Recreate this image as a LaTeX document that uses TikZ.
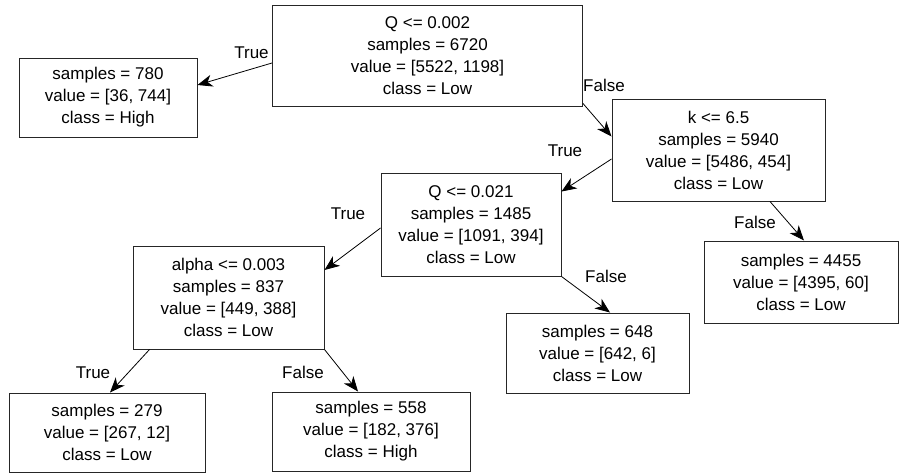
\documentclass[tikz,border=0pt]{standalone}
\usepackage{fontspec}
\setmainfont{Liberation Sans}
\usetikzlibrary{arrows.meta}
\begin{document}
\begin{tikzpicture}[x=1pt,y=-1pt,
  box/.style={draw=black!85, line width=1pt, inner sep=0pt, align=center,
    font=\fontsize{17}{22}\selectfont},
  lbl/.style={inner sep=0pt, font=\fontsize{17}{22}\selectfont},
  edge/.style={draw=black, line width=0.8pt, -{Stealth[length=15pt,width=12pt,inset=4.5pt]}}]
\useasboundingbox (0,0) rectangle (899,474);
\node[box, minimum width=310pt, minimum height=101pt] (root) at (427.5,55.5)
  {Q <= 0.002\\samples = 6720\\value = [5522, 1198]\\class = Low};
\node[box, minimum width=178pt, minimum height=79pt] (n780) at (108,97.5)
  {samples = 780\\value = [36, 744]\\class = High};
\node[box, minimum width=213pt, minimum height=102pt] (k) at (718.5,150)
  {k <= 6.5\\samples = 5940\\value = [5486, 454]\\class = Low};
\node[box, minimum width=180pt, minimum height=103pt] (q) at (471,224.5)
  {Q <= 0.021\\samples = 1485\\value = [1091, 394]\\class = Low};
\node[box, minimum width=194pt, minimum height=82pt] (n4455) at (801,282)
  {samples = 4455\\value = [4395, 60]\\class = Low};
\node[box, minimum width=191pt, minimum height=103pt] (alpha) at (228.5,297.5)
  {alpha <= 0.003\\samples = 837\\value = [449, 388]\\class = Low};
\node[box, minimum width=183pt, minimum height=80pt] (n648) at (597.5,353)
  {samples = 648\\value = [642, 6]\\class = Low};
\node[box, minimum width=196pt, minimum height=79pt] (n279) at (107,432.5)
  {samples = 279\\value = [267, 12]\\class = Low};
\node[box, minimum width=198pt, minimum height=79pt] (n558) at (371,431.5)
  {samples = 558\\value = [182, 376]\\class = High};

\draw[edge] ([yshift=-7.5pt]root.west) -- ([yshift=12.5pt]n780.east);
\draw[edge] ([yshift=3pt]root.south east) -- ([yshift=-38pt]k.north west);
\draw[edge] ([yshift=-9pt]k.west) -- ([yshift=-19pt]q.north east);
\draw[edge] ([yshift=-3.5pt]q.west) -- ([yshift=27.5pt]alpha.east);
\draw[edge] (q.south east) -- ([xshift=12.5pt]n648.north);
\draw[edge] ([xshift=51.5pt]k.south) -- ([xshift=3pt]n4455.north);
\draw[edge] ([xshift=17pt]alpha.south west) -- ([xshift=3pt]n279.north);
\draw[edge] (alpha.south east) -- ([xshift=-13pt]n558.north);

\node[lbl] (t1) at (251.5,53) {True};
\node[lbl] (f1) at (604,85) {False};
\node[lbl] (t2) at (565,151) {True};
\node[lbl] (t3) at (348,214) {True};
\node[lbl] (f2) at (606,276) {False};
\node[lbl] (f3) at (755,222) {False};
\node[lbl] (t4) at (93,373) {True};
\node[lbl] (f4) at (303,372) {False};
\end{tikzpicture}
\end{document}
